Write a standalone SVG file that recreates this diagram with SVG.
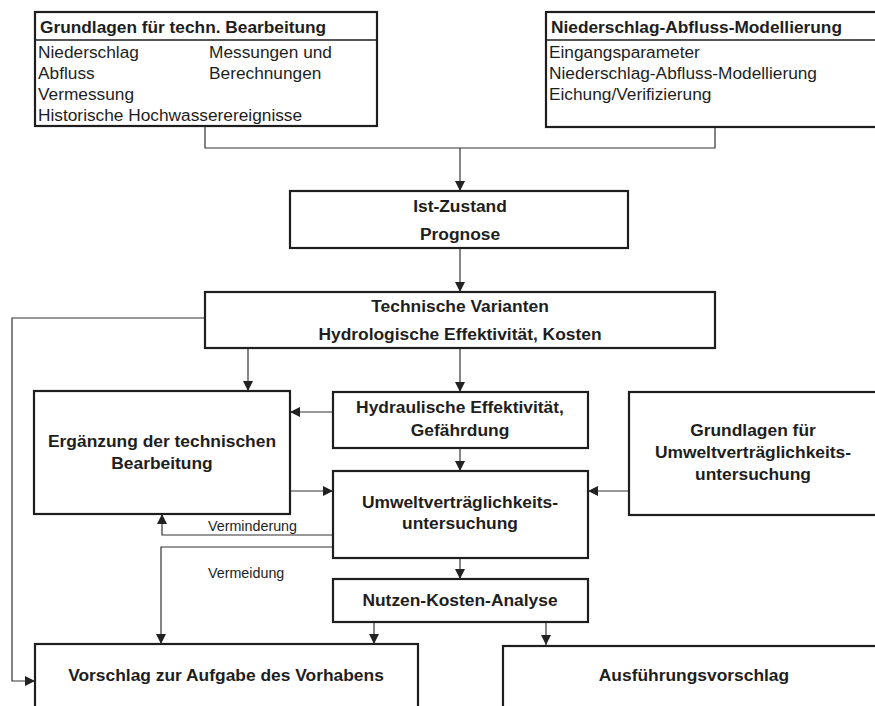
<svg xmlns="http://www.w3.org/2000/svg" width="875" height="706" viewBox="0 0 875 706">
<defs>
<style>
.box{fill:#fff;stroke:#1e1e1e;stroke-width:2.2}
.ln{fill:none;stroke:#333;stroke-width:1.2}
.t{font-family:"Liberation Sans",Arial,sans-serif;fill:#1e1e1e}
.b{font-weight:bold;font-size:17.4px}
.h{font-weight:bold;font-size:17.3px}
.r{font-size:17.3px}
.s{font-size:14.3px}
.c{text-anchor:middle}
</style>
<marker id="ar" viewBox="0 0 10 10" refX="10" refY="5" markerWidth="10" markerHeight="10" markerUnits="userSpaceOnUse" orient="auto">
<path d="M0,0 L10,5 L0,10 z" fill="#222"/>
</marker>
</defs>
<rect width="875" height="706" fill="#fff"/>
<g id="connectors">
<path class="ln" d="M205,126 V148 H715 V127"/>
<path class="ln" d="M460,148 V191" marker-end="url(#ar)"/>
<path class="ln" d="M460,248 V292" marker-end="url(#ar)"/>
<path class="ln" d="M205,318 H12 V681 H35" marker-end="url(#ar)"/>
<path class="ln" d="M248,348 V391" marker-end="url(#ar)"/>
<path class="ln" d="M460,348 V392" marker-end="url(#ar)"/>
<path class="ln" d="M333,412 H290" marker-end="url(#ar)"/>
<path class="ln" d="M460,448 V471" marker-end="url(#ar)"/>
<path class="ln" d="M290,491 H333" marker-end="url(#ar)"/>
<path class="ln" d="M629,491 H588" marker-end="url(#ar)"/>
<path class="ln" d="M333,535 H162 V514" marker-end="url(#ar)"/>
<path class="ln" d="M333,547 H161 V644" marker-end="url(#ar)"/>
<path class="ln" d="M460,558 V579" marker-end="url(#ar)"/>
<path class="ln" d="M374,622 V644" marker-end="url(#ar)"/>
<path class="ln" d="M546,622 V645" marker-end="url(#ar)"/>
<text class="t s" x="208" y="531">Verminderung</text>
<text class="t s" x="208" y="578">Vermeidung</text>
</g>
<g id="n-grundlagen-techn">
<rect class="box" x="35" y="12" width="342" height="114"/>
<line x1="35" y1="40" x2="377" y2="40" stroke="#1e1e1e" stroke-width="1.5"/>
<text class="t h" x="40" y="33">Grundlagen für techn. Bearbeitung</text>
<text class="t r" x="38" y="58">Niederschlag</text>
<text class="t r" x="209" y="58">Messungen und</text>
<text class="t r" x="38" y="79">Abfluss</text>
<text class="t r" x="209" y="79">Berechnungen</text>
<text class="t r" x="38" y="100">Vermessung</text>
<text class="t r" x="38" y="121">Historische Hochwasserereignisse</text>
</g>
<g id="n-na-modell">
<rect class="box" x="546" y="12" width="340" height="115"/>
<line x1="546" y1="40" x2="875" y2="40" stroke="#1e1e1e" stroke-width="1.5"/>
<text class="t h" x="551" y="33">Niederschlag-Abfluss-Modellierung</text>
<text class="t r" x="549" y="58">Eingangsparameter</text>
<text class="t r" x="549" y="79">Niederschlag-Abfluss-Modellierung</text>
<text class="t r" x="549" y="100">Eichung/Verifizierung</text>
</g>
<g id="n-ist">
<rect class="box" x="290" y="191" width="338" height="57"/>
<text class="t b c" x="460" y="212">Ist-Zustand</text>
<text class="t b c" x="460" y="240">Prognose</text>
</g>
<g id="n-varianten">
<rect class="box" x="205" y="292" width="510" height="56"/>
<text class="t b c" x="460" y="312">Technische Varianten</text>
<text class="t b c" x="460" y="340">Hydrologische Effektivität, Kosten</text>
</g>
<g id="n-ergaenzung">
<rect class="box" x="34" y="391" width="256" height="123"/>
<text class="t b c" x="162" y="447">Ergänzung der technischen</text>
<text class="t b c" x="162" y="469">Bearbeitung</text>
</g>
<g id="n-hydraulisch">
<rect class="box" x="333" y="392" width="255" height="56"/>
<text class="t b c" x="460" y="413">Hydraulische Effektivität,</text>
<text class="t b c" x="460" y="436">Gefährdung</text>
</g>
<g id="n-grundlagen-uvu">
<rect class="box" x="629" y="392" width="256" height="123"/>
<text class="t b c" x="753" y="436">Grundlagen für</text>
<text class="t b c" x="753" y="458">Umweltverträglichkeits-</text>
<text class="t b c" x="753" y="480">untersuchung</text>
</g>
<g id="n-uvu">
<rect class="box" x="333" y="471" width="255" height="87"/>
<text class="t b c" x="460" y="508">Umweltverträglichkeits-</text>
<text class="t b c" x="460" y="529">untersuchung</text>
</g>
<g id="n-nka">
<rect class="box" x="333" y="579" width="255" height="43"/>
<text class="t b c" x="460" y="606">Nutzen-Kosten-Analyse</text>
</g>
<g id="n-vorschlag">
<rect class="box" x="35" y="644" width="383" height="80"/>
<text class="t b c" x="226" y="681">Vorschlag zur Aufgabe des Vorhabens</text>
</g>
<g id="n-ausfuehrung">
<rect class="box" x="503" y="646" width="390" height="80"/>
<text class="t b c" x="694" y="681">Ausführungsvorschlag</text>
</g>
</svg>
